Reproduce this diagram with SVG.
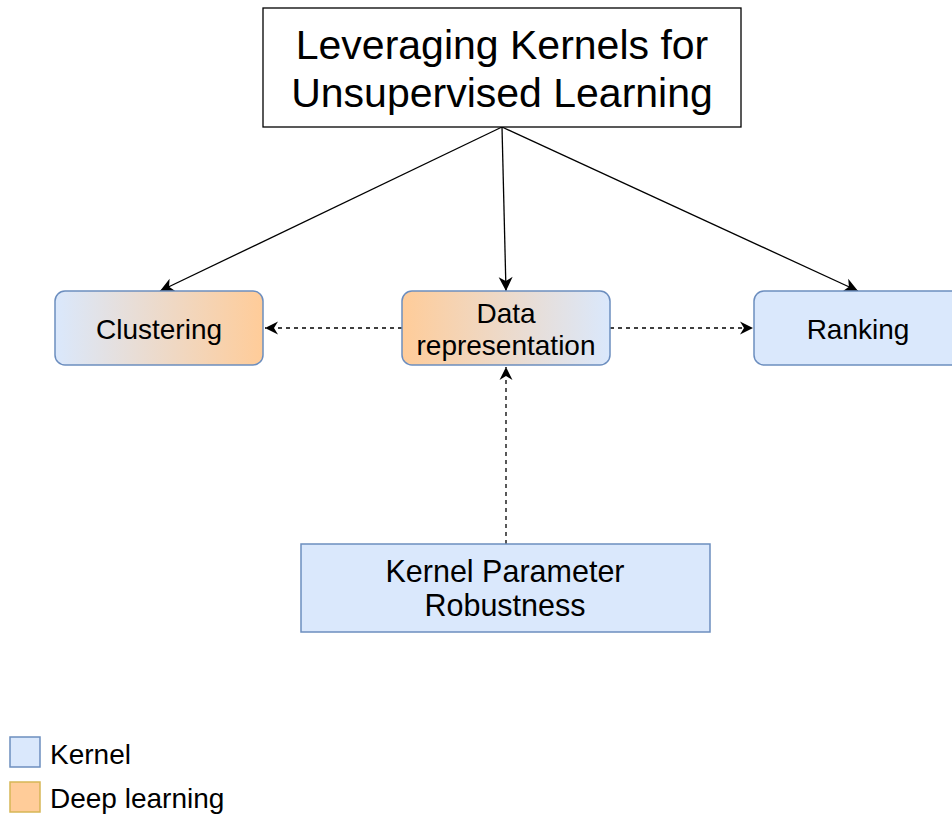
<svg xmlns="http://www.w3.org/2000/svg" width="952" height="817" viewBox="0 0 952 817">
<style>
text { font-family: "Liberation Sans", Arial, Helvetica, sans-serif; fill: #000; text-anchor: middle; }
.node { stroke: #6c8ebf; stroke-width: 1.5; }
.kernel { fill: #dae8fc; }
.conn { stroke: #000; stroke-width: 1.3; fill: none; }
.dash { stroke-dasharray: 4 4; }
</style>
<defs>
<linearGradient id="gBO" x1="0" y1="0" x2="1" y2="0">
<stop offset="0" stop-color="#dae8fc"/>
<stop offset="1" stop-color="#ffcc99"/>
</linearGradient>
<linearGradient id="gOB" x1="0" y1="0" x2="1" y2="0">
<stop offset="0" stop-color="#ffcc99"/>
<stop offset="1" stop-color="#dae8fc"/>
</linearGradient>
<marker id="arr" markerUnits="userSpaceOnUse" viewBox="-16 -9 18 18" refX="0" refY="0" markerWidth="18" markerHeight="18" orient="auto">
<path d="M0,0 L-14,-7 L-10,0 L-14,7 Z" fill="#000"/>
</marker>
<marker id="arrS" markerUnits="userSpaceOnUse" viewBox="-16 -9 18 18" refX="0" refY="0" markerWidth="18" markerHeight="18" orient="auto">
<path d="M0,0 L-13,-6.5 L-9,0 L-13,6.5 Z" fill="#000"/>
</marker>
</defs>
<rect width="952" height="817" fill="#fff"/>
<g id="connectors">
<line class="conn" x1="502" y1="127" x2="160" y2="291" marker-end="url(#arr)"/>
<line class="conn" x1="502" y1="127" x2="506" y2="291" marker-end="url(#arr)"/>
<line class="conn" x1="502" y1="127" x2="858" y2="291" marker-end="url(#arr)"/>
<line class="conn dash" x1="402" y1="328" x2="265" y2="328" marker-end="url(#arrS)"/>
<line class="conn dash" x1="610" y1="328" x2="753" y2="328" marker-end="url(#arrS)"/>
<line class="conn dash" x1="506" y1="544" x2="506" y2="367" marker-end="url(#arrS)"/>
</g>
<g id="title">
<rect x="263" y="8" width="478" height="119" fill="#fff" stroke="#000" stroke-width="1.3"/>
<text x="502" y="59" font-size="41">Leveraging Kernels for</text>
<text x="502" y="107" font-size="41">Unsupervised Learning</text>
</g>
<g id="clustering">
<rect class="node" x="55" y="291" width="208" height="74" rx="10" fill="url(#gBO)"/>
<text x="159" y="339" font-size="28">Clustering</text>
</g>
<g id="data-representation">
<rect class="node" x="402" y="291" width="208" height="74" rx="10" fill="url(#gOB)"/>
<text x="506" y="323" font-size="28">Data</text>
<text x="506" y="355" font-size="28">representation</text>
</g>
<g id="ranking">
<rect class="node kernel" x="754" y="291" width="208" height="74" rx="10"/>
<text x="858" y="339" font-size="28">Ranking</text>
</g>
<g id="kernel-parameter">
<rect class="node kernel" x="301" y="544" width="409" height="88"/>
<text x="505" y="582" font-size="30.5">Kernel Parameter</text>
<text x="505" y="616" font-size="30.5">Robustness</text>
</g>
<g id="legend">
<rect x="10" y="737" width="30" height="30" fill="#dae8fc" stroke="#6c8ebf" stroke-width="1.5"/>
<text x="50" y="764" font-size="28" style="text-anchor:start">Kernel</text>
<rect x="10" y="782" width="30" height="30" fill="#ffcc99" stroke="#d6b656" stroke-width="1.5"/>
<text x="50" y="808" font-size="28" style="text-anchor:start">Deep learning</text>
</g>
</svg>
